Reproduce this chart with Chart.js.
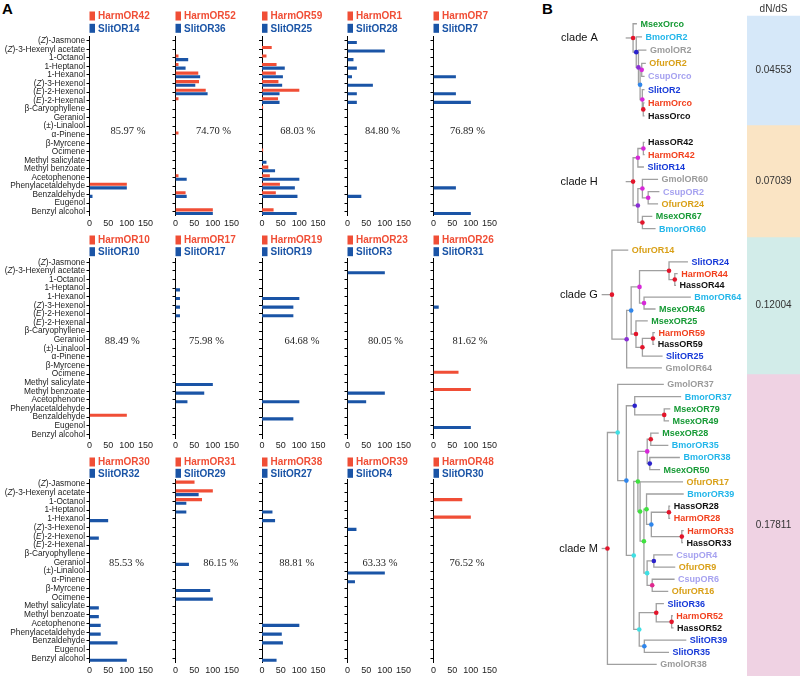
<!DOCTYPE html>
<html>
<head>
<meta charset="utf-8">
<script src="https://cdn.jsdelivr.net/npm/chart.js@4.4.1/dist/chart.umd.min.js"></script>
<style>
  html, body { margin: 0; padding: 0; background: #fff; }
  #fig { position: relative; width: 800px; height: 676px; overflow: hidden; background: #fff; }
  #fig canvas { position: absolute; }
  .letter { position: absolute; font: bold 15px "Liberation Sans", Arial, sans-serif; color: #000; line-height: 15px; }
</style>
</head>
<body>
<div id="fig">
  <div class="letter" style="left:2px;top:1px">A</div>
  <div class="letter" style="left:542px;top:1px">B</div>
</div>
<script>
// ---- panel A data: odorant responses (% of max) ----
const odorants = ['(Z)-Jasmone', '(Z)-3-Hexenyl acetate', '1-Octanol', '1-Heptanol', '1-Hexanol',
  '(Z)-3-Hexenol', '(E)-2-Hexenol', '(E)-2-Hexenal', 'β-Caryophyllene', 'Geraniol', '(±)-Linalool',
  'α-Pinene', 'β-Myrcene', 'Ocimene', 'Methyl salicylate', 'Methyl benzoate', 'Acetophenone',
  'Phenylacetaldehyde', 'Benzaldehyde', 'Eugenol', 'Benzyl alcohol'];

const harmORs = ['HarmOR42', 'HarmOR52', 'HarmOR59', 'HarmOR1', 'HarmOR7',
  'HarmOR10', 'HarmOR17', 'HarmOR19', 'HarmOR23', 'HarmOR26',
  'HarmOR30', 'HarmOR31', 'HarmOR38', 'HarmOR39', 'HarmOR48'];
const slitORs = ['SlitOR14', 'SlitOR36', 'SlitOR25', 'SlitOR28', 'SlitOR7',
  'SlitOR10', 'SlitOR17', 'SlitOR19', 'SlitOR3', 'SlitOR31',
  'SlitOR32', 'SlitOR29', 'SlitOR27', 'SlitOR4', 'SlitOR30'];
const identity = ['85.97 %', '74.70 %', '68.03 %', '84.80 %', '76.89 %',
  '88.49 %', '75.98 %', '64.68 %', '80.05 %', '81.62 %',
  '85.53 %', '86.15 %', '88.81 %', '63.33 %', '76.52 %'];

const harmResp = [
  [0, 0, 0, 0, 0, 0, 0, 0, 0, 0, 0, 0, 0, 0, 0, 0, 0, 100, 0, 0, 0],
  [0, 0, 8, 8, 61, 63, 81, 8, 0, 0, 0, 8, 0, 0, 0, 0, 8, 0, 27, 0, 100],
  [0, 26, 12, 39, 37, 44, 100, 43, 3, 0, 0, 0, 0, 3, 0, 17, 21, 48, 37, 0, 31],
  [0, 0, 0, 0, 0, 0, 0, 0, 0, 0, 0, 0, 0, 0, 0, 0, 0, 0, 0, 0, 0],
  [0, 0, 0, 0, 0, 0, 0, 0, 0, 0, 0, 0, 0, 0, 0, 0, 0, 0, 0, 0, 0],
  [0, 0, 0, 0, 0, 0, 0, 0, 0, 0, 0, 0, 0, 0, 0, 0, 0, 0, 100, 0, 0],
  [0, 0, 0, 0, 0, 0, 0, 0, 0, 0, 0, 0, 0, 0, 0, 0, 0, 0, 0, 0, 0],
  [0, 0, 0, 0, 0, 0, 0, 0, 0, 0, 0, 0, 0, 0, 0, 0, 0, 0, 0, 0, 0],
  [0, 0, 0, 0, 0, 0, 0, 0, 0, 0, 0, 0, 0, 0, 0, 0, 0, 0, 0, 0, 0],
  [0, 0, 0, 0, 0, 0, 0, 0, 0, 0, 0, 0, 0, 67, 0, 100, 0, 0, 0, 0, 0],
  [0, 0, 0, 0, 0, 0, 0, 0, 0, 0, 0, 0, 0, 0, 0, 0, 0, 0, 0, 0, 0],
  [51, 100, 71, 0, 0, 0, 0, 0, 0, 0, 0, 0, 0, 0, 0, 0, 0, 0, 0, 0, 0],
  [0, 0, 0, 0, 0, 0, 0, 0, 0, 0, 0, 0, 0, 0, 0, 0, 0, 0, 0, 0, 0],
  [0, 0, 0, 0, 0, 0, 0, 0, 0, 0, 0, 0, 0, 0, 0, 0, 0, 0, 0, 0, 0],
  [0, 0, 77, 0, 100, 0, 0, 0, 0, 0, 0, 0, 0, 0, 0, 0, 0, 0, 0, 0, 0],
];
const slitResp = [
  [0, 0, 0, 0, 0, 0, 0, 0, 0, 0, 0, 0, 0, 0, 0, 0, 0, 100, 8, 0, 0],
  [0, 0, 34, 27, 66, 53, 86, 0, 0, 0, 0, 0, 0, 0, 0, 0, 30, 0, 30, 0, 100],
  [0, 0, 0, 61, 56, 54, 47, 47, 0, 0, 0, 0, 0, 0, 12, 35, 100, 88, 95, 0, 93],
  [25, 100, 16, 25, 12, 68, 25, 25, 0, 0, 0, 0, 0, 0, 0, 0, 0, 0, 37, 0, 0],
  [0, 0, 0, 0, 60, 0, 60, 100, 0, 0, 0, 0, 0, 0, 0, 0, 0, 60, 0, 0, 100],
  [0, 0, 0, 0, 0, 0, 0, 0, 0, 0, 0, 0, 0, 0, 0, 0, 0, 0, 0, 0, 0],
  [0, 0, 0, 12, 12, 12, 12, 0, 0, 0, 0, 0, 0, 0, 100, 77, 32, 0, 0, 0, 0],
  [0, 0, 0, 0, 100, 84, 84, 0, 0, 0, 0, 0, 0, 0, 0, 0, 100, 0, 84, 0, 0],
  [0, 100, 0, 0, 0, 0, 0, 0, 0, 0, 0, 0, 0, 0, 0, 100, 50, 0, 0, 0, 0],
  [0, 0, 0, 0, 0, 14, 0, 0, 0, 0, 0, 0, 0, 0, 0, 0, 0, 0, 0, 100, 0],
  [0, 0, 0, 0, 50, 0, 25, 0, 0, 0, 0, 0, 0, 0, 25, 25, 30, 30, 75, 0, 100],
  [0, 62, 29, 29, 0, 0, 0, 0, 0, 36, 0, 0, 93, 100, 0, 0, 0, 0, 0, 0, 0],
  [0, 0, 0, 28, 35, 0, 0, 0, 0, 0, 0, 0, 0, 0, 0, 0, 100, 53, 56, 0, 39],
  [0, 0, 0, 0, 0, 24, 0, 0, 0, 0, 100, 20, 0, 0, 0, 0, 0, 0, 0, 0, 0],
  [0, 0, 0, 0, 0, 0, 0, 0, 0, 0, 0, 0, 0, 0, 0, 0, 0, 0, 0, 0, 0],
];
const xTicks = [0, 50, 100, 150];

// ---- panel B data: trees (newick, branch lengths), node labels = support colour code ----
const cladeNames = ['clade A', 'clade H', 'clade G', 'clade M'];
const cladeTrees = [
  '(MsexOrco:4,(BmorOR2:6,(GmolOR2:8.3,((OfurOR2:4.3,CsupOrco:3)m:1.7,(SlitOR2:2.3,(HarmOrco:1.3,HassOrco:1.3)r:1)m:2.3)l:1.7)p:2.3)n:3.3)r',
  '(((HassOR42:1.3,HarmOR42:1.3)m:5.7,SlitOR14:6.3)m:5,((GmolOR60:16.3,(CsupOR2:11.7,OfurOR24:10.3)m:6)m:4.7,(MsexOR67:10.3,BmorOR60:13.7)r:4.7)p:5)r',
  '(OfurOR14:17,((((SlitOR24:19.7,(HarmOR44:3,HassOR44:1.3)r:6)r:30.7,(BmorOR64:48.7,MsexOR46:12)m:4.7)m:8.7,(MsexOR25:12.3,((HarmOR59:2,HassOR59:1.3)r:11,SlitOR25:21)r:6.7)r:5)l:4.7,GmolOR64:36.7)p:15.3)r',
  '((GmolOR37:48,((BmorOR37:48.3,(MsexOR79:6.3,MsexOR49:5)r:30.7)n:8.7,((((MsexOR28:8.3,BmorOR35:18.3)r:3.7,(BmorOR38:31.3,MsexOR50:10.7)n:2.7)m:9.7,(OfurOR17:44.7,((BmorOR39:38.7,((HassOR28:1.3,HarmOR28:1.3)r:18.3,(HarmOR33:2,HassOR33:1.3)r:31.7)l:5)g:2.7,((CsupOR4:19.7,OfurOR9:22.3)n:7,(CsupOR6:23.3,OfurOR16:16.7)k:5.3)c:3.3)g:4)g:2.3)g:4.3,((SlitOR36:8,(HarmOR52:1.3,HassOR52:2)r:16)r:17.7,(SlitOR39:43.7,SlitOR35:25.7)l:5.3)c:5.7)c:7.7)l:9)c:10.7,GmolOR38:51.3)r',
];
const dnds = [0.04553, 0.07039, 0.12004, 0.17811];

// ---- styles / layout ----
const RED = '#f04e36';
const BLUE = '#1a54a6';
const SANS = '"Liberation Sans", Arial, sans-serif';
const SERIF = '"Liberation Serif", "Times New Roman", serif';
const COL_AXIS = [89.5, 175.5, 262, 347.5, 433.5];
const ROW_TICK0 = [40.7, 262.3, 484];
const ROW_STEP = [8.55, 8.6, 8.72];
const LEG_OFF = [[-24.7, -12.4], [-22.3, -10.6], [-22, -10.7]];
const PCT_POS = [[103, 102, 96, 94, 91], [88, 83, 107, 102, 98], [99, 121, 93, 87, 90]];
const PCT_ROW = [10.6, 9.2, 9.1];
const PLOT_W = 56, X_AXIS_H = 17;

const speciesColor = { Msex: '#169a35', Bmor: '#22b6ea', Gmol: '#9b9b9b', Ofur: '#d9a018',
  Csup: '#a6a2f0', Slit: '#1639d8', Harm: '#f2401e', Hass: '#111111' };
const nodeColor = { r: '#e3152b', m: '#d728d8', p: '#8a2fd6', n: '#2b22cc', l: '#2f86ec',
  c: '#3fe0e4', g: '#3ee23e', k: '#e0288f' };
const cladeLayout = [
  { rootX: 632.7, stubX: 625, firstY: 20, step: 13.33 },
  { rootX: 632.7, stubX: 625, firstY: 140, step: 12.47 },
  { rootX: 610.7, stubX: 600, firstY: 249, step: 11.93 },
  { rootX: 606, stubX: 600, firstY: 385, step: 12.32 },
];
const cladeFill = ['#d6e8f9', '#fae4c4', '#d2ece9', '#efd2e3'];
const bandEdges = [16, 125, 237, 374, 676];

Chart.defaults.font.family = SANS;
Chart.defaults.color = '#222';
const fig = document.getElementById('fig');

function addCanvas(left, top, w, h) {
  const c = document.createElement('canvas');
  c.width = w; c.height = h;
  c.style.left = left + 'px'; c.style.top = top + 'px';
  c.style.width = w + 'px'; c.style.height = h + 'px';
  fig.appendChild(c);
  return c;
}

// odorant label with italic Z / E
function drawRich(ctx, text, xRight, y, size) {
  const segs = [];
  const re = /\(([ZE])\)/g;
  let last = 0, m;
  while ((m = re.exec(text))) {
    segs.push({ t: text.slice(last, m.index + 1), it: false });
    segs.push({ t: m[1], it: true });
    last = m.index + 2;
  }
  segs.push({ t: text.slice(last), it: false });
  const font = it => (it ? 'italic ' : '') + size + 'px ' + SANS;
  let total = 0;
  segs.forEach(s => { ctx.font = font(s.it); s.w = ctx.measureText(s.t).width; total += s.w; });
  let x = xRight - total;
  ctx.textAlign = 'left';
  ctx.textBaseline = 'middle';
  segs.forEach(s => { ctx.font = font(s.it); ctx.fillText(s.t, x, y); x += s.w; });
}

function panelDecor(i, row, col) {
  return {
    id: 'decor' + i,
    afterDraw(chart) {
      const ctx = chart.ctx, area = chart.chartArea;
      const ys = chart.scales.y, xs = chart.scales.x;
      const y0 = ys.getPixelForValue(0);
      ctx.save();
      // legend
      [[harmORs[i], RED, LEG_OFF[row][0]], [slitORs[i], BLUE, LEG_OFF[row][1]]].forEach(([name, color, off]) => {
        const cy = y0 + off;
        ctx.fillStyle = color;
        ctx.fillRect(area.left, cy - 4.5, 5.5, 9);
        ctx.font = 'bold 10px ' + SANS;
        ctx.textAlign = 'left';
        ctx.textBaseline = 'middle';
        ctx.fillText(name, area.left + 8.5, cy + 0.5);
      });
      // sequence identity
      ctx.fillStyle = '#222';
      ctx.font = '10.5px ' + SERIF;
      ctx.textAlign = 'center';
      ctx.textBaseline = 'middle';
      ctx.fillText(identity[i], xs.getPixelForValue(PCT_POS[row][col]), ys.getPixelForValue(PCT_ROW[row]));
      // odorant names on first column
      if (col === 0) {
        ctx.fillStyle = '#222';
        odorants.forEach((name, k) => drawRich(ctx, name, area.left - 4.5, ys.getPixelForValue(k), 8.3));
      }
      ctx.restore();
    }
  };
}

function drawPanel(i) {
  const col = i % 5, row = Math.floor(i / 5);
  const axisX = COL_AXIS[col];
  const tick0 = ROW_TICK0[row], step = ROW_STEP[row];
  const cLeft = col === 0 ? 0 : Math.floor(axisX - 12);
  const cTop = Math.floor(tick0 - 34);
  const yAxisW = axisX - cLeft;
  const padTop = (tick0 - step / 2) - cTop;
  const plotH = step * odorants.length;
  const W = Math.ceil(yAxisW + PLOT_W + 14);
  const H = Math.ceil(padTop + plotH + X_AXIS_H + 2);
  const canvas = addCanvas(cLeft, cTop, W, H);

  new Chart(canvas.getContext('2d'), {
    type: 'bar',
    data: {
      labels: odorants,
      datasets: [
        { data: harmResp[i], backgroundColor: RED, barPercentage: 0.87, categoryPercentage: 0.84 },
        { data: slitResp[i], backgroundColor: BLUE, barPercentage: 0.87, categoryPercentage: 0.84 },
      ],
    },
    options: {
      indexAxis: 'y',
      responsive: false,
      animation: false,
      devicePixelRatio: 1,
      events: [],
      layout: { padding: { top: padTop, left: 0, right: W - yAxisW - PLOT_W, bottom: H - padTop - plotH - X_AXIS_H } },
      plugins: { legend: { display: false }, tooltip: { enabled: false } },
      scales: {
        y: {
          type: 'category',
          offset: true,
          ticks: { display: false, autoSkip: false },
          grid: { display: true, drawOnChartArea: false, drawTicks: true, tickLength: 3, color: '#000', lineWidth: 1, offset: false },
          border: { display: true, color: '#000', width: 1 },
          afterFit: s => { s.width = yAxisW; },
        },
        x: {
          type: 'linear',
          min: xTicks[0],
          max: xTicks[xTicks.length - 1],
          afterBuildTicks: s => { s.ticks = xTicks.map(v => ({ value: v })); },
          ticks: { font: { size: 9 }, color: '#222', padding: 2, maxRotation: 0, minRotation: 0, autoSkip: false },
          grid: { display: false, drawTicks: false },
          border: { display: false },
          afterFit: s => { s.height = X_AXIS_H; },
        },
      },
    },
    plugins: [panelDecor(i, row, col)],
  });
}

for (let i = 0; i < harmORs.length; i++) drawPanel(i);

// ---- panel B: trees ----
function parseNewick(s) {
  let i = 0;
  function node() {
    const n = { children: [] };
    if (s[i] === '(') {
      i++;
      n.children.push(node());
      while (s[i] === ',') { i++; n.children.push(node()); }
      i++;
    }
    let name = '';
    while (i < s.length && !',():'.includes(s[i])) name += s[i++];
    n.name = name;
    n.len = 0;
    if (s[i] === ':') {
      i++;
      let num = '';
      while (i < s.length && !',()'.includes(s[i])) num += s[i++];
      n.len = parseFloat(num);
    }
    return n;
  }
  return node();
}

function layoutClade(tree, lay) {
  const leaves = [], inner = [], edges = [];
  function walk(n, x) {
    n.x = x;
    if (!n.children.length) {
      n.y = lay.firstY + leaves.length * lay.step;
      leaves.push(n);
      return;
    }
    n.children.forEach(c => walk(c, x + c.len));
    n.y = (n.children[0].y + n.children[n.children.length - 1].y) / 2;
    inner.push(n);
    n.children.forEach(c => edges.push([{ x: n.x, y: n.y }, { x: n.x, y: c.y }, { x: c.x, y: c.y }]));
  }
  walk(tree, lay.rootX);
  edges.push([{ x: lay.stubX, y: tree.y }, { x: tree.x, y: tree.y }]);
  return { leaves, inner, edges, root: tree };
}

const clades = cladeTrees.map((nw, k) => layoutClade(parseNewick(nw), cladeLayout[k]));
const allLeaves = clades.flatMap(c => c.leaves);
const allInner = clades.flatMap(c => c.inner);
const treeDatasets = [{
  data: allInner.map(n => ({ x: n.x, y: n.y })),
  pointBackgroundColor: allInner.map(n => nodeColor[n.name] || '#e3152b'),
  pointBorderWidth: 0,
  pointRadius: 2.3,
  showLine: false,
  clip: false,
}];
clades.forEach(c => c.edges.forEach(e => treeDatasets.push({
  data: e, showLine: true, borderColor: '#a0a0a0', borderWidth: 1.3, pointRadius: 0, tension: 0, clip: false,
})));

const TREE_LEFT = 540, TREE_W = 205;
const treeCanvas = addCanvas(TREE_LEFT, 0, TREE_W, 676);
new Chart(treeCanvas.getContext('2d'), {
  type: 'scatter',
  data: { datasets: treeDatasets },
  options: {
    responsive: false,
    animation: false,
    devicePixelRatio: 1,
    events: [],
    layout: { padding: 0 },
    plugins: { legend: { display: false }, tooltip: { enabled: false } },
    scales: {
      x: { type: 'linear', min: TREE_LEFT, max: TREE_LEFT + TREE_W, display: false },
      y: { type: 'linear', min: 0, max: 676, reverse: true, display: false },
    },
  },
  plugins: [{
    id: 'treeText',
    afterDraw(chart) {
      const ctx = chart.ctx, xs = chart.scales.x, ys = chart.scales.y;
      ctx.save();
      ctx.textBaseline = 'middle';
      ctx.textAlign = 'left';
      ctx.font = 'bold 9px ' + SANS;
      allLeaves.forEach(l => {
        ctx.fillStyle = speciesColor[l.name.slice(0, 4)] || '#111';
        ctx.fillText(l.name, xs.getPixelForValue(l.x) + 3.5, ys.getPixelForValue(l.y) + 0.5);
      });
      ctx.font = '11px ' + SANS;
      ctx.fillStyle = '#111';
      ctx.textAlign = 'right';
      clades.forEach((c, k) => ctx.fillText(cladeNames[k], xs.getPixelForValue(596), ys.getPixelForValue(c.root.y) + 0.5));
      ctx.restore();
    }
  }],
});

// ---- dN/dS column ----
const dndsCanvas = addCanvas(747, 0, 53, 676);
new Chart(dndsCanvas.getContext('2d'), {
  type: 'bar',
  data: {
    labels: ['dN/dS'],
    datasets: dnds.map((v, k) => ({
      data: [[bandEdges[k], bandEdges[k + 1]]],
      backgroundColor: cladeFill[k],
      borderWidth: 0,
      grouped: false,
      barPercentage: 1,
      categoryPercentage: 1,
    })),
  },
  options: {
    responsive: false,
    animation: false,
    devicePixelRatio: 1,
    events: [],
    layout: { padding: 0 },
    plugins: { legend: { display: false }, tooltip: { enabled: false } },
    scales: {
      x: { display: false },
      y: { type: 'linear', min: 0, max: 676, reverse: true, display: false },
    },
  },
  plugins: [{
    id: 'dndsText',
    afterDraw(chart) {
      const ctx = chart.ctx;
      ctx.save();
      ctx.fillStyle = '#333';
      ctx.textAlign = 'center';
      ctx.textBaseline = 'middle';
      ctx.font = '10px ' + SANS;
      ctx.fillText('dN/dS', (chart.chartArea.left + chart.chartArea.right) / 2, 9);
      dnds.forEach((v, k) => {
        const el = chart.getDatasetMeta(k).data[0];
        ctx.fillText(v.toFixed(5), el.x, (el.y + el.base) / 2);
      });
      ctx.restore();
    }
  }],
});
</script>
</body>
</html>
